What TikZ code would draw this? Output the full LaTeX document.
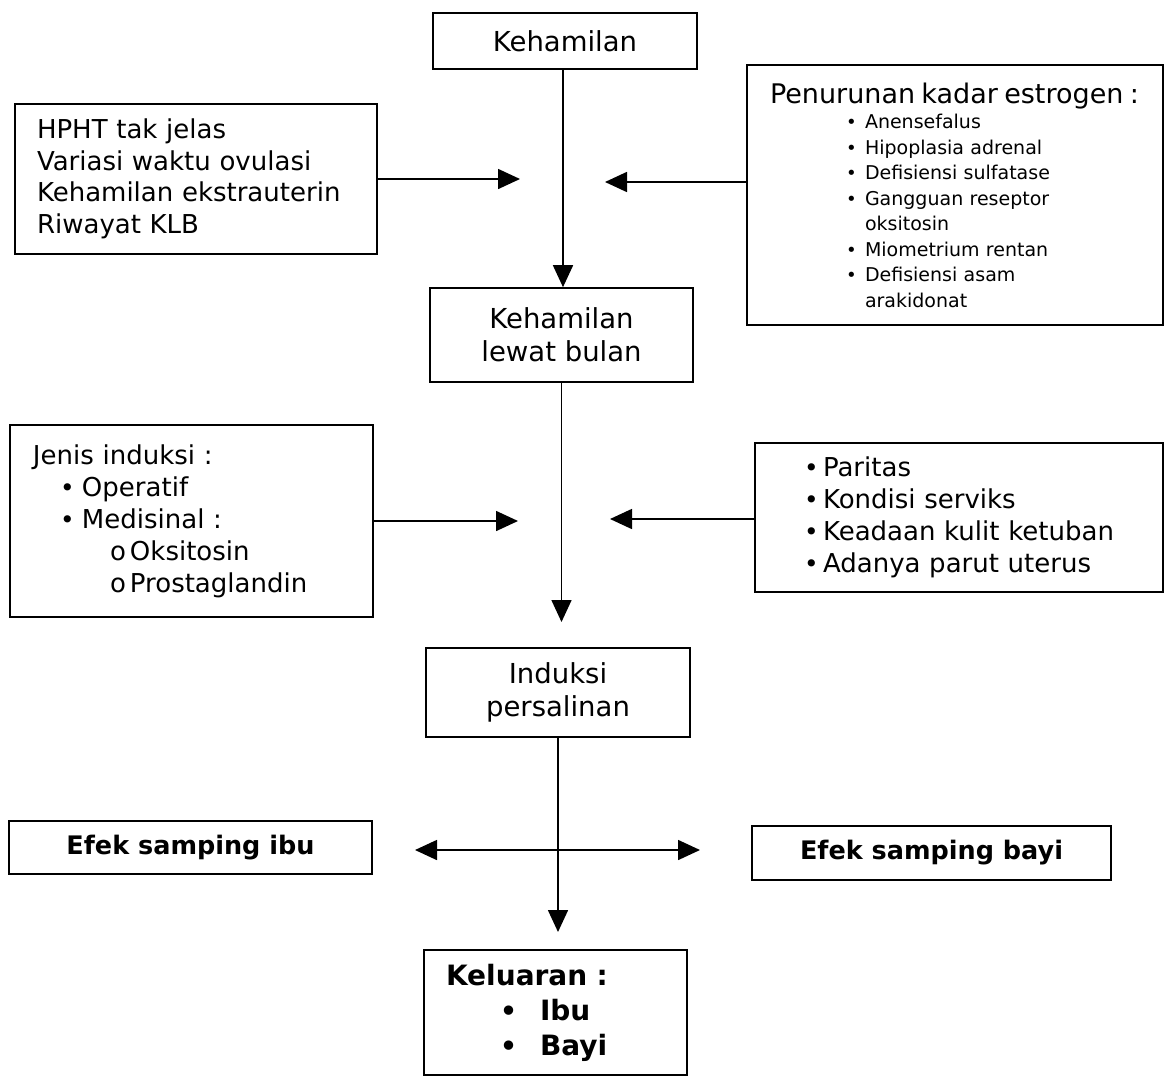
\documentclass[tikz,border=0pt]{standalone}
\usepackage{fontspec}
\setmainfont{DejaVu Sans}
\usetikzlibrary{arrows.meta}
% bullet / circle markers with a lead-in indent and a fixed marker width
\newcommand\bulitem[2]{\hspace*{#1}\makebox[#2][l]{\scalebox{0.95}{\textbullet}}}
\newcommand\circitem[2]{\hspace*{#1}\makebox[#2][l]{o}}
\begin{document}
\begin{tikzpicture}[x=1pt,y=-1pt,
  frame/.style={draw, line width=1.6pt, rectangle, inner sep=0pt},
  listbox/.style={frame, inner xsep=6pt, align=left},
  mainbox/.style={frame, align=center, font=\fontsize{27.5}{33}\selectfont},
  boldbox/.style={frame, align=center, font=\fontsize{25.5}{30}\selectfont\bfseries},
  arr/.style={line width=1.6pt, -{Triangle[length=22pt,width=20pt]}},
  dbl/.style={line width=1.6pt, {Triangle[length=22pt,width=20pt]}-{Triangle[length=22pt,width=20pt]}}]

\fill[white] (0,0) rectangle (1166,1076);

% central column
\node[mainbox, minimum width=264pt, minimum height=56pt] (keh) at (565,41) {Kehamilan};
\node[mainbox, minimum width=263pt, minimum height=94pt] (lew) at (561.5,335) {Kehamilan\\lewat bulan};
\node[mainbox, minimum width=264pt, minimum height=89pt] (ind) at (558,692.5) {Induksi\\persalinan};
\node[frame, align=left, inner xsep=6pt, text width=251pt, minimum height=125pt,
      font=\fontsize{28}{35}\selectfont\bfseries] (kel) at (555.5,1012.5)
  {\hspace*{16pt}Keluaran :\\
   \bulitem{70pt}{40pt}Ibu\\
   \bulitem{70pt}{40pt}Bayi};

% side boxes, upper row
\node[listbox, text width=350pt, minimum height=150pt, font=\fontsize{26}{31.5}\selectfont] (hpht) at (196,179)
  {\hspace*{16pt}HPHT tak jelas\\
   \hspace*{16pt}Variasi waktu ovulasi\\
   \hspace*{16pt}Kehamilan ekstrauterin\\
   \hspace*{16pt}Riwayat KLB};
\node[listbox, text width=404pt, minimum height=260pt, font=\fontsize{19}{25.5}\selectfont] (pen) at (955,195)
  {\hspace*{17pt}{\fontsize{27}{27}\selectfont Penurunan kadar estrogen :}\\
   \bulitem{93pt}{19pt}Anensefalus\\
   \bulitem{93pt}{19pt}Hipoplasia adrenal\\
   \bulitem{93pt}{19pt}Defisiensi sulfatase\\
   \bulitem{93pt}{19pt}Gangguan reseptor\\
   \hspace*{112pt}oksitosin\\
   \bulitem{93pt}{19pt}Miometrium rentan\\
   \bulitem{93pt}{19pt}Defisiensi asam\\
   \hspace*{112pt}arakidonat};

% side boxes, middle row
\node[listbox, text width=351pt, minimum height=192pt, font=\fontsize{26}{32}\selectfont] (jen) at (191.5,521)
  {\hspace*{17pt}Jenis induksi :\\
   \bulitem{44pt}{22pt}Operatif\\
   \bulitem{44pt}{22pt}Medisinal :\\
   \circitem{94pt}{20pt}Oksitosin\\
   \circitem{94pt}{20pt}Prostaglandin};
\node[listbox, text width=396pt, minimum height=149pt, font=\fontsize{26}{32}\selectfont] (par) at (959,517.5)
  {\bulitem{43pt}{19pt}Paritas\\
   \bulitem{43pt}{19pt}Kondisi serviks\\
   \bulitem{43pt}{19pt}Keadaan kulit ketuban\\
   \bulitem{43pt}{19pt}Adanya parut uterus};

% side boxes, lower row
\node[boldbox, minimum width=363pt, minimum height=53pt] (ibu) at (190.5,847.5) {Efek samping ibu};
\node[boldbox, minimum width=359pt, minimum height=54pt] (bay) at (931.5,853) {Efek samping bayi};

% free arrow ends
\coordinate (hA) at (520,179);
\coordinate (pA) at (605,182);
\coordinate (t2) at (561.5,622);
\coordinate (jA) at (518,521);
\coordinate (qA) at (610,519);
\coordinate (t3) at (558,932);
\coordinate (dl) at (415,850);
\coordinate (dr) at (700,850);

% connectors
\draw[arr] ([xshift=-2pt]keh.south) -- ([xshift=-2pt]keh.south |- lew.north);
\draw[arr] (hpht.east) -- (hA);
\draw[arr] (pen.west |- pA) -- (pA);
\draw[arr] (lew.south) -- (t2);
\draw[arr] (jen.east) -- (jA);
\draw[arr] (par.west |- qA) -- (qA);
\draw[arr] (ind.south) -- (t3);
\draw[dbl] (dl) -- (dr);
\end{tikzpicture}
\end{document}
